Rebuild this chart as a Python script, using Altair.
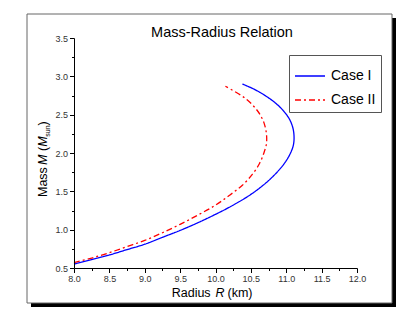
import altair as alt
import pandas as pd

# Case I (blue, solid)
case1_r = [8.0, 8.25, 8.5, 8.75, 9.0, 9.25, 9.5, 9.75, 10.0, 10.25, 10.5, 10.7, 10.85, 10.97, 11.05, 11.1, 11.11, 11.09, 11.04, 10.96, 10.85, 10.7, 10.55, 10.38]
case1_m = [0.55, 0.61, 0.67, 0.74, 0.81, 0.90, 0.99, 1.09, 1.20, 1.32, 1.46, 1.60, 1.73, 1.86, 1.98, 2.10, 2.22, 2.34, 2.45, 2.55, 2.65, 2.75, 2.83, 2.90]
# Case II (red, dash-dot)
case2_r = [8.0, 8.25, 8.5, 8.75, 9.0, 9.25, 9.5, 9.75, 10.0, 10.2, 10.38, 10.52, 10.62, 10.68, 10.72, 10.72, 10.69, 10.63, 10.55, 10.45, 10.33, 10.14]
case2_m = [0.57, 0.63, 0.70, 0.78, 0.86, 0.96, 1.07, 1.19, 1.32, 1.45, 1.58, 1.72, 1.86, 1.99, 2.12, 2.25, 2.38, 2.50, 2.60, 2.69, 2.77, 2.87]

series = ["Case I", "Case II"]
colors = ["#0000ff", "#ff0000"]
x_major = [8.0, 8.5, 9.0, 9.5, 10.0, 10.5, 11.0, 11.5, 12.0]
y_major = [0.5, 1.0, 1.5, 2.0, 2.5, 3.0, 3.5]

rows = []
for i, (r, m) in enumerate(zip(case1_r, case1_m)):
    rows.append({"case": series[0], "R": r, "M": m, "i": i})
for i, (r, m) in enumerate(zip(case2_r, case2_m)):
    rows.append({"case": series[1], "R": r, "M": m, "i": i})
df = pd.DataFrame(rows)

x_vals = sorted(set(x_major + [v + 0.25 for v in x_major[:-1]]))
y_vals = sorted(set(y_major + [v + 0.25 for v in y_major[:-1]]))

FONT = "Liberation Sans"
lab_expr = "datum.value % 0.5 == 0 ? format(datum.value, '.1f') : ''"
tick_cond = {"condition": {"test": "datum.value % 0.5 == 0", "value": 4.5}, "value": 2.5}

dummy = pd.DataFrame({"a": [0]})

# drop shadow: right and bottom strips
shadow_r = alt.Chart(dummy).mark_rect(fill="black").encode(
    x=alt.value(318), x2=alt.value(322), y=alt.value(-20), y2=alt.value(269))
shadow_b = alt.Chart(dummy).mark_rect(fill="black").encode(
    x=alt.value(-43), x2=alt.value(322), y=alt.value(265), y2=alt.value(269))
frame = alt.Chart(dummy).mark_rect(fill=None, stroke="#666666", strokeWidth=1).encode(
    x=alt.value(-47), x2=alt.value(318), y=alt.value(-24), y2=alt.value(265))

leg = alt.Legend(title=None, orient="none", legendX=215, legendY=17,
                 symbolType="stroke", symbolSize=900, symbolStrokeWidth=1.3,
                 labelFontSize=14, labelFont=FONT, labelColor="black",
                 padding=5, rowPadding=1, labelOffset=5,
                 strokeColor="#555555", fillColor="white")

lines = alt.Chart(df).mark_line(strokeWidth=1.3, interpolate="catmull-rom").encode(
    x=alt.X("R:Q", scale=alt.Scale(domain=[8, 12], nice=False, zero=False),
            axis=alt.Axis(values=x_vals, labelExpr=lab_expr, tickSize=tick_cond,
                          title=None, labelFlush=False, labelOverlap=False, labelPadding=2,
                          zindex=1)),
    y=alt.Y("M:Q", scale=alt.Scale(domain=[0.5, 3.5], nice=False, zero=False),
            axis=alt.Axis(values=y_vals, labelExpr=lab_expr, tickSize=tick_cond,
                          title=None, labelOverlap=False, labelPadding=2, zindex=1)),
    color=alt.Color("case:N", scale=alt.Scale(domain=series, range=colors), legend=leg),
    strokeDash=alt.StrokeDash("case:N", scale=alt.Scale(domain=series, range=[[1, 0], [6, 3, 2, 3]]),
                              legend=leg),
    order="i:Q",
)

def txt(s, x, y, size=12.5, style="normal", angle=0, align="left", baseline="alphabetic"):
    return alt.Chart(dummy).mark_text(text=s, font=FONT, fontSize=size, fontStyle=style,
                                      angle=angle, align=align, baseline=baseline,
                                      color="black").encode(x=alt.value(x), y=alt.value(y))

title = txt("Mass-Radius Relation", 148, -1, size=14.5, align="center")

xt1 = txt("Radius", 97.7, 258.5)
xt2 = txt("R", 141.5, 258.5, style="italic")
xt3 = txt("(km)", 153.5, 258.5)

yt1 = txt("Mass", -27, 159, angle=270)
yt2 = txt("M", -27, 127, style="italic", angle=270)
yt3 = txt("(", -27, 113, angle=270)
yt4 = txt("M", -27, 108.7, style="italic", angle=270)
yt5 = txt("sun", -24, 98.7, size=7, angle=270)
yt6 = txt(")", -27, 87.4, angle=270)

chart = alt.layer(shadow_r, shadow_b, frame, lines, title, xt1, xt2, xt3,
                  yt1, yt2, yt3, yt4, yt5, yt6).properties(
    width=283, height=230,
    autosize=alt.AutoSizeParams(type="none"),
    padding={"left": 66, "top": 30, "right": 50, "bottom": 45},
).configure_view(stroke=None).configure_axis(
    domainColor="black", domainWidth=1, tickColor="black", tickWidth=1,
    labelColor="#333333", labelFontSize=9, labelFont=FONT, grid=False,
)

chart.save("out.html", embed_options={"renderer": "svg", "actions": False})
